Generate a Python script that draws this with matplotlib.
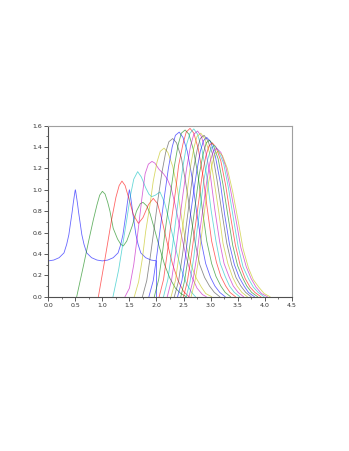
import matplotlib
matplotlib.use("Agg")
import matplotlib.pyplot as plt
import numpy as np

# curve data (x, y pairs per curve)
c1_x = [0, 0, 0.1, 0.2, 0.29, 0.34, 0.38, 0.414, 0.44, 0.46, 0.48, 0.495, 0.5, 0.505, 0.52, 0.54, 0.56, 0.586,
        0.62, 0.66, 0.71, 0.8, 0.9, 1.0,
        1.1, 1.2, 1.29, 1.34, 1.38, 1.414, 1.44, 1.46, 1.48, 1.495, 1.5, 1.505, 1.52, 1.54, 1.56, 1.586,
        1.62, 1.66, 1.71, 1.8, 1.9, 2.0, 2.0]
c1_y = [0, 0.335, 0.343, 0.365, 0.41, 0.49, 0.58, 0.7, 0.79, 0.87, 0.94, 0.99, 1.0, 0.99, 0.94, 0.87, 0.79, 0.7,
        0.58, 0.49, 0.41, 0.365, 0.343, 0.335,
        0.343, 0.365, 0.41, 0.49, 0.58, 0.7, 0.79, 0.87, 0.94, 0.99, 1.0, 0.99, 0.94, 0.87, 0.79, 0.7,
        0.58, 0.49, 0.41, 0.365, 0.343, 0.335, 0]

c2_x = [0.525, 0.65, 0.75, 0.832, 0.9, 0.95, 1.0, 1.05, 1.1, 1.14, 1.2, 1.28, 1.34, 1.387, 1.45, 1.55, 1.63, 1.7,
        1.75, 1.82, 1.88, 1.97, 2.05, 2.15, 2.25, 2.35, 2.45, 2.55]
c2_y = [0, 0.29, 0.53, 0.718, 0.86, 0.95, 0.986, 0.96, 0.88, 0.8, 0.64, 0.54, 0.49, 0.475, 0.52, 0.66, 0.8, 0.87,
        0.883, 0.85, 0.78, 0.62, 0.47, 0.3, 0.17, 0.08, 0.03, 0]

c3_x = [0.926, 1.05, 1.17, 1.25, 1.31, 1.362, 1.42, 1.5, 1.57, 1.666, 1.75, 1.85, 1.94, 2.02, 2.1, 2.2, 2.3, 2.4,
        2.5, 2.6]
c3_y = [0, 0.36, 0.72, 0.93, 1.04, 1.082, 1.04, 0.9, 0.77, 0.686, 0.74, 0.86, 0.92, 0.87, 0.72, 0.5, 0.3, 0.15,
        0.05, 0]

c4_x = [1.196, 1.3, 1.38, 1.45, 1.52, 1.58, 1.652, 1.72, 1.8, 1.86, 1.91, 1.98, 2.065, 2.15, 2.25, 2.35, 2.45,
        2.55, 2.65, 2.72]
c4_y = [0, 0.25, 0.5, 0.72, 0.95, 1.1, 1.17, 1.12, 1.02, 0.96, 0.936, 0.95, 0.98, 0.88, 0.68, 0.46, 0.27, 0.13,
        0.04, 0]

c5_x = [1.418, 1.5, 1.58, 1.66, 1.73, 1.79, 1.85, 1.917, 1.97, 2.05, 2.13, 2.2, 2.27, 2.35, 2.45, 2.55, 2.65,
        2.75, 2.85, 2.92]
c5_y = [0, 0.08, 0.3, 0.62, 0.92, 1.15, 1.24, 1.266, 1.25, 1.19, 1.15, 1.1, 1.02, 0.85, 0.6, 0.37, 0.19, 0.08,
        0.02, 0]

c6_x = [1.59, 1.67, 1.74, 1.80, 1.88, 1.94, 2.01, 2.07, 2.14, 2.21, 2.30, 2.39, 2.47, 2.56, 2.65, 2.74, 2.83, 2.91, 3.02]
c6_y = [0, 0.14, 0.36, 0.61, 0.86, 1.08, 1.26, 1.36, 1.39, 1.35, 1.22, 1.00, 0.72, 0.46, 0.28, 0.17, 0.09, 0.03, 0]

c7_x = [1.74, 1.82, 1.89, 1.96, 2.03, 2.10, 2.17, 2.23, 2.30, 2.37, 2.46, 2.54, 2.63, 2.72, 2.80, 2.89, 2.98, 3.07, 3.17]
c7_y = [0, 0.15, 0.39, 0.65, 0.92, 1.16, 1.35, 1.45, 1.48, 1.44, 1.30, 1.07, 0.77, 0.49, 0.30, 0.18, 0.10, 0.04, 0]

c8_x = [1.86, 1.94, 2.01, 2.08, 2.15, 2.22, 2.29, 2.35, 2.42, 2.49, 2.57, 2.66, 2.74, 2.83, 2.91, 3.00, 3.08, 3.17, 3.27]
c8_y = [0, 0.15, 0.40, 0.68, 0.95, 1.20, 1.40, 1.51, 1.54, 1.49, 1.36, 1.11, 0.80, 0.51, 0.31, 0.18, 0.10, 0.04, 0]

c9_x = [1.96, 2.04, 2.11, 2.18, 2.26, 2.33, 2.40, 2.46, 2.53, 2.60, 2.68, 2.77, 2.85, 2.93, 3.02, 3.10, 3.19, 3.27, 3.37]
c9_y = [0, 0.16, 0.41, 0.69, 0.97, 1.22, 1.42, 1.53, 1.56, 1.52, 1.38, 1.13, 0.81, 0.52, 0.31, 0.19, 0.10, 0.04, 0]

c10_x = [2.05, 2.13, 2.20, 2.27, 2.35, 2.41, 2.49, 2.55, 2.62, 2.69, 2.77, 2.86, 2.94, 3.02, 3.11, 3.19, 3.28, 3.36, 3.46]
c10_y = [0, 0.16, 0.41, 0.69, 0.98, 1.23, 1.43, 1.54, 1.575, 1.53, 1.39, 1.13, 0.82, 0.52, 0.32, 0.19, 0.10, 0.04, 0]

c11_x = [2.13, 2.21, 2.28, 2.35, 2.42, 2.49, 2.56, 2.62, 2.69, 2.76, 2.84, 2.93, 3.01, 3.10, 3.18, 3.27, 3.35, 3.44, 3.54]
c11_y = [0, 0.16, 0.41, 0.69, 0.97, 1.22, 1.43, 1.53, 1.57, 1.52, 1.38, 1.13, 0.81, 0.52, 0.31, 0.19, 0.10, 0.04, 0]

c12_x = [2.20, 2.28, 2.35, 2.42, 2.49, 2.56, 2.63, 2.69, 2.76, 2.83, 2.91, 3.00, 3.08, 3.17, 3.25, 3.34, 3.42, 3.51, 3.61]
c12_y = [0, 0.16, 0.40, 0.68, 0.96, 1.21, 1.41, 1.52, 1.55, 1.50, 1.36, 1.12, 0.81, 0.51, 0.31, 0.19, 0.10, 0.04, 0]

c13_x = [2.27, 2.35, 2.42, 2.49, 2.56, 2.62, 2.69, 2.75, 2.82, 2.89, 2.98, 3.06, 3.15, 3.23, 3.32, 3.41, 3.49, 3.58, 3.68]
c13_y = [0, 0.15, 0.40, 0.67, 0.95, 1.19, 1.39, 1.50, 1.53, 1.48, 1.35, 1.10, 0.80, 0.50, 0.31, 0.18, 0.10, 0.04, 0]

c14_x = [2.33, 2.41, 2.48, 2.55, 2.62, 2.68, 2.75, 2.81, 2.88, 2.95, 3.04, 3.12, 3.21, 3.30, 3.39, 3.47, 3.56, 3.65, 3.75]
c14_y = [0, 0.15, 0.39, 0.66, 0.94, 1.18, 1.37, 1.48, 1.51, 1.46, 1.33, 1.09, 0.79, 0.50, 0.30, 0.18, 0.10, 0.04, 0]

c15_x = [2.39, 2.47, 2.54, 2.60, 2.67, 2.74, 2.81, 2.87, 2.93, 3.00, 3.09, 3.18, 3.26, 3.35, 3.44, 3.53, 3.62, 3.70, 3.81]
c15_y = [0, 0.15, 0.39, 0.66, 0.92, 1.16, 1.36, 1.46, 1.49, 1.45, 1.31, 1.07, 0.77, 0.49, 0.30, 0.18, 0.10, 0.04, 0]

c16_x = [2.45, 2.52, 2.59, 2.66, 2.73, 2.79, 2.86, 2.92, 2.98, 3.05, 3.14, 3.23, 3.32, 3.41, 3.50, 3.59, 3.67, 3.76, 3.87]
c16_y = [0, 0.15, 0.38, 0.64, 0.91, 1.14, 1.33, 1.44, 1.465, 1.42, 1.29, 1.05, 0.76, 0.48, 0.29, 0.18, 0.10, 0.04, 0]

c17_x = [2.50, 2.57, 2.64, 2.71, 2.78, 2.84, 2.91, 2.97, 3.03, 3.10, 3.19, 3.28, 3.37, 3.46, 3.55, 3.64, 3.73, 3.82, 3.93]
c17_y = [0, 0.14, 0.37, 0.63, 0.89, 1.12, 1.31, 1.41, 1.44, 1.40, 1.27, 1.04, 0.75, 0.48, 0.29, 0.17, 0.09, 0.04, 0]

c18_x = [2.55, 2.62, 2.69, 2.75, 2.82, 2.88, 2.95, 3.01, 3.07, 3.14, 3.24, 3.33, 3.42, 3.51, 3.60, 3.70, 3.79, 3.88, 3.99]
c18_y = [0, 0.14, 0.37, 0.62, 0.88, 1.10, 1.29, 1.39, 1.415, 1.37, 1.25, 1.02, 0.74, 0.47, 0.28, 0.17, 0.09, 0.04, 0]

c19_x = [2.60, 2.67, 2.74, 2.80, 2.87, 2.93, 2.99, 3.05, 3.11, 3.19, 3.28, 3.37, 3.47, 3.56, 3.66, 3.75, 3.84, 3.94, 4.05]
c19_y = [0, 0.14, 0.36, 0.61, 0.86, 1.08, 1.26, 1.36, 1.39, 1.35, 1.22, 1.00, 0.72, 0.46, 0.28, 0.17, 0.09, 0.03, 0]

c20_x = [2.64, 2.71, 2.78, 2.84, 2.90, 2.96, 3.03, 3.08, 3.14, 3.22, 3.31, 3.41, 3.51, 3.60, 3.70, 3.79, 3.89, 3.99, 4.10]
c20_y = [0, 0.14, 0.35, 0.60, 0.85, 1.06, 1.24, 1.34, 1.36, 1.32, 1.20, 0.98, 0.71, 0.45, 0.27, 0.16, 0.09, 0.03, 0]

curves_x = [c1_x, c2_x, c3_x, c4_x, c5_x, c6_x, c7_x, c8_x, c9_x, c10_x,
            c11_x, c12_x, c13_x, c14_x, c15_x, c16_x, c17_x, c18_x, c19_x, c20_x]
curves_y = [c1_y, c2_y, c3_y, c4_y, c5_y, c6_y, c7_y, c8_y, c9_y, c10_y,
            c11_y, c12_y, c13_y, c14_y, c15_y, c16_y, c17_y, c18_y, c19_y, c20_y]

# scilab style colour cycle
colors = ["#0000ff", "#008000", "#ff0000", "#00bfbf", "#bf00bf", "#bfbf00", "#404040"]

x_ticks = [0.0, 0.5, 1.0, 1.5, 2.0, 2.5, 3.0, 3.5, 4.0, 4.5]
y_ticks = [0.0, 0.2, 0.4, 0.6, 0.8, 1.0, 1.2, 1.4, 1.6]

fig = plt.figure(figsize=(3.49, 4.51), dpi=100)
ax = fig.add_axes([0.1384, 0.3421, 0.6974, 0.3792])

for i, (xs, ys) in enumerate(zip(curves_x, curves_y)):
    ax.plot(xs, ys, color=colors[i % 7], lw=0.6, alpha=0.6)

ax.set_xlim(0, 4.5)
ax.set_ylim(0, 1.6)
ax.set_xticks(x_ticks)
ax.set_xticklabels(["%.1f" % v for v in x_ticks])
ax.set_yticks(y_ticks)
ax.set_yticklabels(["%.1f" % v for v in y_ticks])
ax.set_xticks(np.arange(0.25, 4.5, 0.5), minor=True)
ax.set_yticks(np.arange(0.1, 1.6, 0.2), minor=True)
ax.tick_params(which="major", length=3, width=0.6, color="#404040",
               labelsize=4.5, labelcolor="#303030", pad=1.5, direction="out")
ax.tick_params(which="minor", length=1.5, width=0.5, color="#404040", direction="out")

for side in ["top", "right"]:
    ax.spines[side].set_color("#a0a0a0")
    ax.spines[side].set_linewidth(0.8)
for side in ["left", "bottom"]:
    ax.spines[side].set_color("#505050")
    ax.spines[side].set_linewidth(0.8)

fig.savefig("out.png", dpi=100)
